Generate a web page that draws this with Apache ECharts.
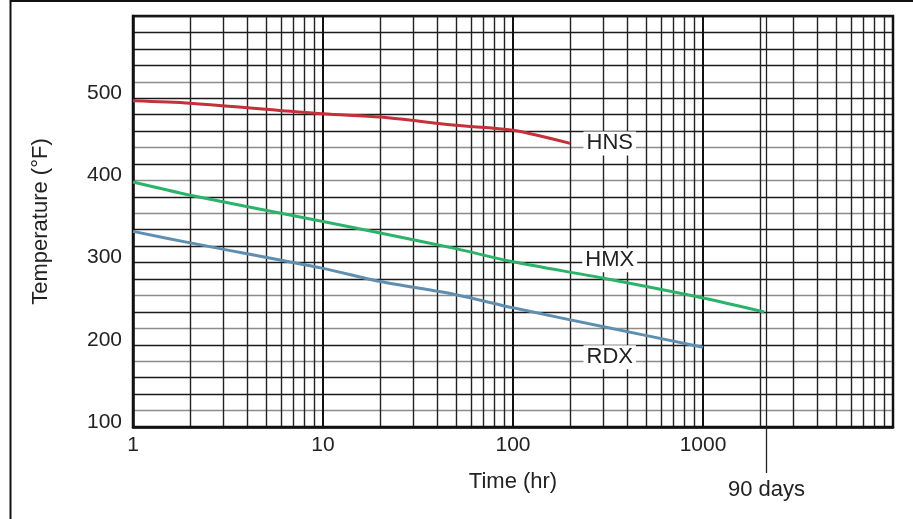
<!DOCTYPE html>
<html>
<head>
<meta charset="utf-8">
<script src="https://cdn.jsdelivr.net/npm/echarts@6/dist/echarts.min.js"></script>
<style>html,body{margin:0;padding:0;background:#fff}#c{width:913px;height:519px}</style>
</head>
<body>
<div id="c"></div>
<script>
// ---- data ----
const timeTicks = [1, 10, 100, 1000];
const tempTicks = [100, 200, 300, 400, 500];

const hnsTime = [1, 2, 10, 20, 50, 100, 200];
const hnsTemp = [497, 494, 481, 477, 467, 461, 445];

const hmxTime = [1, 2, 10, 20, 50, 100, 300, 1000, 2100];
const hmxTemp = [398, 382, 350, 336, 317, 301, 281, 257, 240];

const rdxTime = [1, 2, 10, 20, 50, 100, 300, 1000];
const rdxTemp = [338, 324, 293, 277, 261, 245, 222, 197];

const labelNames = ['HNS', 'HMX', 'RDX'];
const labelTimes = [323, 323, 323];
const labelTemps = [445, 303, 185];

const markerTime = [2160];
const markerText = ['90 days'];

// ---- chart ----
const FONT = "'Liberation Sans', Arial, Helvetica, sans-serif";
const TXT = '#222';
const D = '#1a1a1a', G = '#8c8c8c';
const ySplitColors = [D,G,D,D,G,D,G,D,G,D,D,D,D,G,D,G,D,G,D,D,D,G,D,D,D,D];

const pair = (xs, ys) => xs.map((x, i) => [x, ys[i]]);

const chart = echarts.init(document.getElementById('c'), null, {renderer: 'canvas'});
chart.setOption({
  animation: false,
  backgroundColor: '#fff',
  grid: {left: 133, right: 20, top: 16, bottom: 92, show: true, borderColor: '#111', borderWidth: 2.5, backgroundColor: 'transparent'},
  xAxis: [{
    type: 'log', logBase: 10, min: 1, max: 10000,
    name: 'Time (hr)', nameLocation: 'middle', nameGap: 44,
    nameTextStyle: {fontFamily: FONT, fontSize: 22, color: TXT},
    axisLine: {show: true, lineStyle: {color: '#111', width: 2.5}},
    axisTick: {show: false},
    axisLabel: {margin: 8, fontFamily: FONT, fontSize: 21, color: TXT,
      formatter: v => timeTicks.includes(v) ? String(v) : ''},
    splitLine: {show: true, lineStyle: {color: '#111', width: 2}},
    minorTick: {show: false, splitNumber: 9},
    minorSplitLine: {show: true, lineStyle: {color: '#222', width: 1.4}}
  }, {
    type: 'log', logBase: 10, min: 1, max: 10000, position: 'bottom', offset: 0,
    axisLine: {show: false},
    axisTick: {show: true, inside: false, length: 46, customValues: markerTime, lineStyle: {color: '#222', width: 1.3}},
    axisLabel: {show: true, customValues: markerTime, margin: 52, fontFamily: FONT, fontSize: 22, color: TXT,
      formatter: () => markerText[0]},
    splitLine: {show: false}
  }],
  yAxis: {
    type: 'value', min: 100, max: 600, interval: 20,
    name: 'Temperature (°F)', nameLocation: 'middle', nameGap: 81, nameRotate: 90,
    nameTextStyle: {fontFamily: FONT, fontSize: 22, color: TXT},
    axisLine: {show: true, lineStyle: {color: '#111', width: 2.5}},
    axisTick: {show: false},
    axisLabel: {margin: 11, fontFamily: FONT, fontSize: 21, color: TXT, verticalAlign: 'bottom', lineHeight: 10,
      formatter: v => tempTicks.includes(v) ? String(v) : ''},
    splitLine: {show: true, lineStyle: {color: ySplitColors, width: 1.3}}
  },
  series: [
    {name: 'HNS', type: 'line', data: pair(hnsTime, hnsTemp), showSymbol: false, smooth: 0.3,
      lineStyle: {color: '#c4313b', width: 3}, z: 5},
    {name: 'HMX', type: 'line', data: pair(hmxTime, hmxTemp), showSymbol: false, smooth: 0.3,
      lineStyle: {color: '#2cb36a', width: 3}, z: 5,
      markLine: {silent: true, symbol: 'none', label: {show: false},
        lineStyle: {color: '#222', width: 1.3, type: 'solid'},
        data: markerTime.map(t => ({xAxis: t}))}},
    {name: 'RDX', type: 'line', data: pair(rdxTime, rdxTemp), showSymbol: false, smooth: 0.3,
      lineStyle: {color: '#5f8fb0', width: 3}, z: 5},
    {name: 'labels', type: 'scatter', symbolSize: 0, z: 10,
      itemStyle: {opacity: 1},
      data: labelNames.map((n, i) => ({value: [labelTimes[i], labelTemps[i]], name: n})),
      label: {show: true, position: 'inside', formatter: p => p.name, opacity: 1,
        fontFamily: FONT, fontSize: 22, color: TXT, backgroundColor: '#fff', padding: [1, 3]}}
  ],
  graphic: [
    {type: 'line', shape: {x1: 10, y1: 1, x2: 913, y2: 1}, style: {stroke: '#111', lineWidth: 2}},
    {type: 'line', shape: {x1: 10.5, y1: 0, x2: 10.5, y2: 519}, style: {stroke: '#111', lineWidth: 2}}
  ]
});
</script>
</body>
</html>
